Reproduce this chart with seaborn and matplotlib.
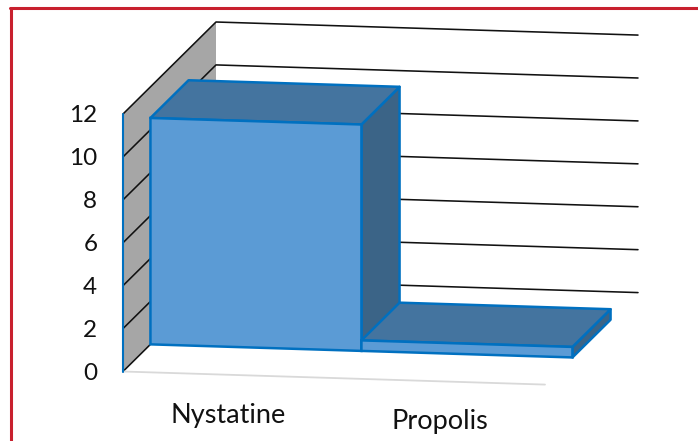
import matplotlib
matplotlib.use('Agg')
import matplotlib.pyplot as plt
import seaborn as sns
from matplotlib.lines import Line2D
from matplotlib.transforms import Affine2D, IdentityTransform, ScaledTranslation

categories = ['Nystatine', 'Propolis']
values = [10.55, 0.49]
y_ticks = [0, 2, 4, 6, 8, 10, 12]

front_color = '#5b9bd5'
top_color = '#44749f'
side_color = '#3b6487'
edge_color = '#0070c0'

# fake 3d look of the office chart, all in pixels at dpi 100
W, H = 698, 441
left_px, right_px = 123, 545
zero_px, top_px = 371.5, 114
slope = 0.031
depth_dx, depth_dy = 93, 92
bar_front, bar_back = 0.295, 0.705

sns.set_theme(style='white')
plt.rcParams['font.family'] = ['Lato', 'DejaVu Sans']

fig = plt.figure(figsize=(W / 100, H / 100), dpi=100)
ax = fig.add_axes([left_px / W, (H - zero_px) / H, (right_px - left_px) / W, (zero_px - top_px) / H])

sns.barplot(x=categories, y=values, ax=ax, color=front_color, saturation=1, width=1,
            edgecolor=edge_color, linewidth=1.8, zorder=6)
bars = list(ax.patches)
ax.set_xlim(-0.5, 1.5)
ax.set_ylim(0, 12)
ax.autoscale(False)
ax.patch.set_alpha(0)
sns.despine(ax=ax, left=True, bottom=True)


def sheared(d):
    shear = Affine2D.from_values(1, -slope, 0, 1, 0, slope * left_px)
    return ax.transData + shear + Affine2D().translate(depth_dx * d, depth_dy * d)


def to_px(x, v, d):
    return sheared(d).transform((x, v))


def draw_face(corners, color, z):
    pts = [to_px(*c) for c in corners]
    ax.fill([p[0] for p in pts], [p[1] for p in pts], facecolor=color, edgecolor=edge_color,
            linewidth=1.8, joinstyle='round', transform=IdentityTransform(), zorder=z, clip_on=False)


def draw_line(corners, color, lw, z):
    pts = [to_px(*c) for c in corners]
    ax.plot([p[0] for p in pts], [p[1] for p in pts], color=color, lw=lw,
            transform=IdentityTransform(), zorder=z, clip_on=False)


x0, x1 = ax.get_xlim()

# side wall and gridlines
wall = [(x0, 0, 0), (x0, 12, 0), (x0, 12, 1), (x0, 0, 1)]
wall_pts = [to_px(*c) for c in wall]
ax.fill([p[0] for p in wall_pts], [p[1] for p in wall_pts], color='#a6a6a6', lw=0,
        transform=IdentityTransform(), zorder=1, clip_on=False)
for t in y_ticks:
    draw_line([(x0, t, 0), (x0, t, 1), (x1, t, 1)], '#111111', 1.15, 2)
draw_line([(x0, 0, 0), (x1, 0, 0)], '#d9d9d9', 1.3, 2)
draw_line([(x0, 0, 0), (x0, 12, 0)], edge_color, 1.5, 3)

# bars, front face comes from seaborn, top and side follow its size
for i, bar in enumerate(bars):
    a = bar.get_x()
    b = a + bar.get_width()
    v = bar.get_height()
    bar.set_transform(sheared(bar_front))
    bar.set_clip_on(False)
    bar.set_zorder(6 + i * 3)
    draw_face([(b, 0, bar_front), (b, v, bar_front), (b, v, bar_back), (b, 0, bar_back)], side_color, 4 + i * 3)
    draw_face([(a, v, bar_front), (b, v, bar_front), (b, v, bar_back), (a, v, bar_back)], top_color, 5 + i * 3)

ax.set_yticks(y_ticks)
ax.set_xticks(range(len(categories)))
ax.set_xticklabels(categories)
ax.set_xlabel('')
ax.set_ylabel('')
ax.tick_params(axis='y', length=0, pad=18.5, labelsize=17.5, labelcolor='#111111')
ax.tick_params(axis='x', length=0, pad=23, labelsize=19.5, labelcolor='#111111')
labels = ax.get_xticklabels()
labels[1].set_transform(labels[1].get_transform() + ScaledTranslation(0, -4.3 / 72, fig.dpi_scale_trans))

# red frame of the source slide
red = '#c8202e'
fig.add_artist(Line2D([10.5 / W, 10.5 / W], [0, 1 - 8 / H], color=red, lw=2.2))
fig.add_artist(Line2D([10 / W, 1], [1 - 8 / H, 1 - 8 / H], color=red, lw=2.2))

fig.savefig('out.png', dpi=100)
